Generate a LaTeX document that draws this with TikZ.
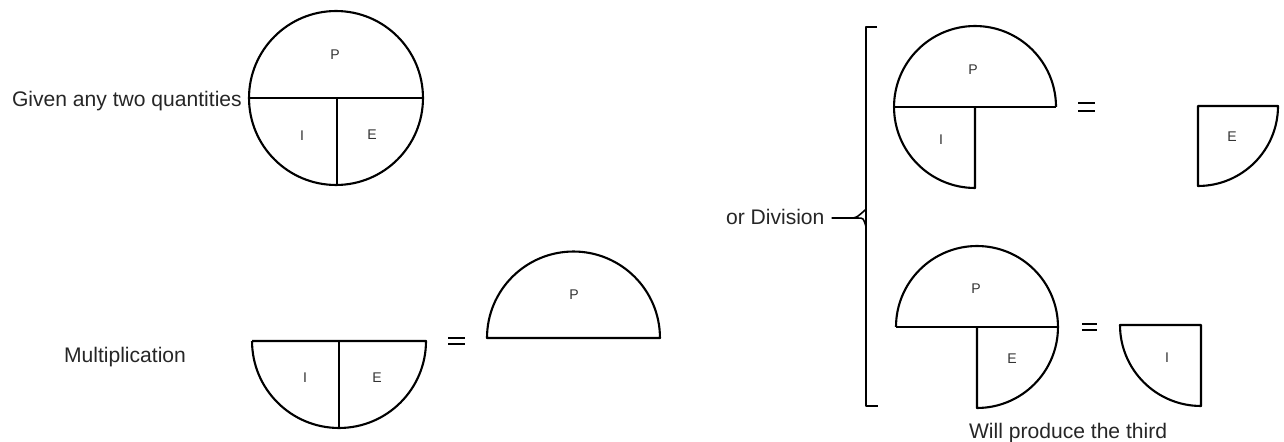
\documentclass[tikz,border=0pt]{standalone}
\usepackage{fontspec}
\setmainfont{Liberation Sans}
\usetikzlibrary{positioning}

\begin{document}
\begin{tikzpicture}[x=0.02cm, y=-0.02cm, line width=1.2pt, line join=round,
  caption/.style={anchor=base west, inner sep=0pt, font=\fontsize{12}{14}\selectfont, text=black!85},
  part/.style={inner sep=0pt, font=\fontsize{8}{9}\selectfont, text=black!80},
  eqbar/.style={line width=0.8pt}]
\useasboundingbox (0,0) rectangle (1284,442);

% whole circle
\draw (336,98) circle[radius=1.74cm];
\draw (249,98) -- (423,98);
\draw (337,98) -- (337,185);
\node[part] (pTop) at (335,55) {P};
\node[part] (iTop) at (302,136) {I};
\node[part] (eTop) at (372,135) {E};
\node[caption] (given) at (11,107) {Given any two quantities};

% multiplication
\node[caption] (mult) at (63,362) {Multiplication};
\draw (252,341) -- (426,341) arc[start angle=0, end angle=-180, radius=1.74cm];
\draw (339,341) -- (339,428);
\node[part] (iMul) at (305,378) {I};
\node[part] (eMul) at (377,378) {E};
\draw[eqbar] (448,338) -- (465,338) (448,344) -- (465,344);
\draw (487,338) arc[start angle=180, end angle=0, radius=1.73cm] -- cycle;
\node[part] (pMul) at (574,295) {P};

% division bracket
\draw (877,27) -- (866,27) -- (866,406) -- (878,406);
\node[caption] (div) at (725,225) {or Division};
\coordinate (tip) at (866,218);
\draw[line width=0.9pt] (div.east |- tip) ++(6,0) -- ++(26,0) .. controls +(6,0) .. ([yshift=-5]tip);
\draw[line width=0.9pt] ([xshift=-9]tip) .. controls +(6,0) .. ([yshift=5]tip);

% division, upper: P over I gives E
\draw (1056,107) arc[start angle=0, end angle=270, radius=1.62cm] -- (975,107);
\draw (894,107) -- (1056,107);
\node[part] (pUp) at (973,70) {P};
\node[part] (iUp) at (941,140) {I};
\draw[eqbar] (1078,103) -- (1095,103) (1078,111) -- (1095,111);
\draw (1198,106) -- (1278,106) arc[start angle=0, end angle=-90, radius=1.6cm] -- cycle;
\node[part] (eUp) at (1232,137) {E};

% division, lower: P over E gives I
\draw (896,327) arc[start angle=180, end angle=-90, radius=1.62cm] -- (977,327);
\draw (896,327) -- (1058,327);
\node[part] (pLow) at (976,289) {P};
\node[part] (eLow) at (1012,359) {E};
\draw[eqbar] (1082,324) -- (1097,324) (1082,330) -- (1097,330);
\draw (1201,325) -- (1120,325) arc[start angle=180, end angle=270, radius=1.62cm] -- cycle;
\node[part] (iLow) at (1167,358) {I};

\node[caption] (third) at (968,438) {Will produce the third};
\end{tikzpicture}
\end{document}
